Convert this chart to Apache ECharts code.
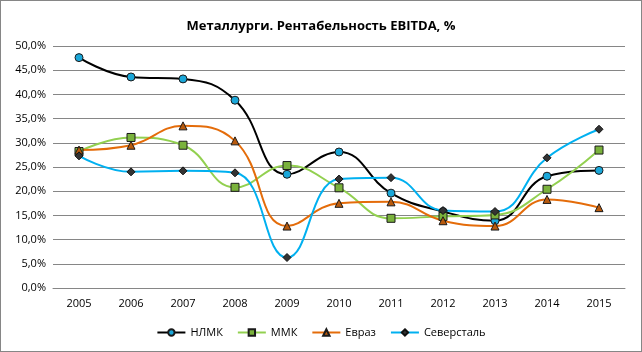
<!DOCTYPE html>
<html>
<head>
<meta charset="utf-8">
<script src="https://cdn.jsdelivr.net/npm/echarts@6/dist/echarts.min.js"></script>
<style>
  html, body { margin: 0; padding: 0; background: #fff; }
  #chart { width: 640px; height: 350px; border: 1px solid #868686; }
</style>
</head>
<body>
<div id="chart"></div>
<script>
// годы
var years = ['2005', '2006', '2007', '2008', '2009', '2010', '2011', '2012', '2013', '2014', '2015'];
// рентабельность EBITDA, %
var nlmk = [47.6, 43.6, 43.2, 38.8, 23.5, 28.1, 19.6, 15.8, 13.9, 23.1, 24.3];
var mmk = [28.2, 31.1, 29.5, 20.8, 25.3, 20.7, 14.4, 14.8, 15.1, 20.4, 28.5];
var evraz = [28.5, 29.5, 33.5, 30.4, 12.8, 17.5, 17.8, 13.9, 12.8, 18.3, 16.6];
var severstal = [27.3, 24.0, 24.2, 23.8, 6.3, 22.5, 22.8, 16.0, 15.8, 26.9, 32.8];

var chart = echarts.init(document.getElementById('chart'));

function line(name, data, lineColor, symbol, size, fill, border) {
  return {
    name: name,
    type: 'line',
    data: data,
    smooth: 0.45,
    symbol: symbol,
    symbolSize: size,
    showAllSymbol: true,
    lineStyle: { color: lineColor, width: 2 },
    itemStyle: { color: fill, borderColor: border, borderWidth: 1 },
    emphasis: { disabled: true }
  };
}

chart.setOption({
  animation: false,
  textStyle: { fontFamily: 'Open Sans' },
  title: {
    text: 'Металлурги. Рентабельность EBITDA, %',
    left: 'center',
    top: 14,
    textStyle: { fontSize: 13, fontWeight: 'bold', color: '#000', fontFamily: 'Open Sans' }
  },
  legend: {
    bottom: 8,
    left: 'center',
    itemWidth: 28,
    itemHeight: 8,
    itemGap: 14,
    textStyle: { fontSize: 11, color: '#000' },
    data: ['НЛМК', 'ММК', 'Евраз', 'Северсталь']
  },
  grid: { left: 52, right: 16, top: 45, bottom: 63 },
  xAxis: {
    type: 'category',
    data: years,
    boundaryGap: true,
    axisLine: { lineStyle: { color: '#868686' } },
    axisTick: { show: false },
    axisLabel: { color: '#000', fontSize: 11, margin: 10 }
  },
  yAxis: {
    type: 'value',
    min: 0,
    max: 50,
    interval: 5,
    axisLine: { show: false },
    axisTick: { show: false },
    splitLine: { lineStyle: { color: '#868686' } },
    axisLabel: {
      color: '#000',
      fontSize: 11,
      margin: 7,
      formatter: function (v) { return v.toFixed(1).replace('.', ',') + '%'; }
    }
  },
  series: [
    line('НЛМК', nlmk, '#000000', 'circle', 8, '#1aa7d9', '#1a1a1a'),
    line('ММК', mmk, '#92d050', 'rect', 8, '#7ab23c', '#1a1a1a'),
    line('Евраз', evraz, '#e46c0a', 'triangle', 8, '#b85a0d', '#1a1a1a'),
    line('Северсталь', severstal, '#00b0f0', 'diamond', 8, '#333333', '#111111')
  ]
});
</script>
</body>
</html>
